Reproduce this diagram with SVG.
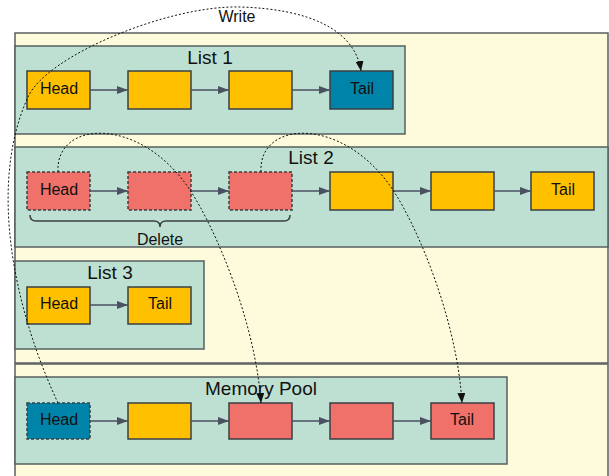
<svg xmlns="http://www.w3.org/2000/svg" width="609" height="476" viewBox="0 0 609 476">
<style>
text{font-family:"Liberation Sans",Arial,sans-serif;fill:#111;text-anchor:middle;dominant-baseline:central}
.bg{fill:#fdfbdc;stroke:#5a5f60;stroke-width:1.5}
.grp{fill:#bee0d2;stroke:#56605f;stroke-width:1.5}
.n{stroke:#3a3f44;stroke-width:1.5}
.y{fill:#ffc000}
.r{fill:#f0706a}
.b{fill:#0083a9}
.d{stroke-dasharray:3,2}
.lbl{font-size:19px}
.t{font-size:16px}
.ln{stroke:#4a5160;stroke-width:1.5;fill:none;marker-end:url(#ah)}
.cv{stroke:#111;stroke-width:1;stroke-dasharray:2,2;fill:none;marker-end:url(#bh)}
</style>
<defs>
<marker id="ah" markerUnits="userSpaceOnUse" markerWidth="11" markerHeight="8" refX="11" refY="4" orient="auto"><path d="M0,0 L11,4 L0,8 z" fill="#4a5160"/></marker>
<marker id="bh" markerUnits="userSpaceOnUse" markerWidth="10" markerHeight="8" refX="10" refY="4" orient="auto"><path d="M0,0 L10,4 L0,8 z" fill="#111"/></marker>
</defs>
<rect class="bg" x="15" y="33" width="593" height="330"/>
<rect class="bg" x="15" y="364" width="593" height="120"/>

<g id="list1">
<rect class="grp" x="15" y="46" width="390" height="88"/>
<text class="lbl" x="210" y="57">List 1</text>
</g>
<g id="l1-head"><rect class="n y" x="27" y="71" width="63" height="38"/><text class="t" x="59" y="88.5">Head</text></g>
<g id="l1-n2"><rect class="n y" x="128" y="71" width="63" height="38"/></g>
<g id="l1-n3"><rect class="n y" x="229" y="71" width="63" height="38"/></g>
<g id="l1-tail"><rect class="n b" x="330" y="71" width="63" height="38"/><text class="t" x="362" y="88.5">Tail</text></g>

<g id="list2">
<rect class="grp" x="15" y="147" width="593" height="100"/>
<text class="lbl" x="311" y="157">List 2</text>
</g>
<g id="l2-head"><rect class="n r d" x="27" y="172" width="63" height="38"/><text class="t" x="59" y="189">Head</text></g>
<g id="l2-n2"><rect class="n r d" x="128" y="172" width="63" height="38"/></g>
<g id="l2-n3"><rect class="n r d" x="229" y="172" width="63" height="38"/></g>
<g id="l2-n4"><rect class="n y" x="330" y="172" width="63" height="38"/></g>
<g id="l2-n5"><rect class="n y" x="431" y="172" width="63" height="38"/></g>
<g id="l2-tail"><rect class="n y" x="531" y="172" width="63" height="38"/><text class="t" x="563" y="189">Tail</text></g>
<g id="delete">
<path d="M30,215 Q30,221 36,221 L154,221 Q160,221 160,227 Q160,221 166,221 L284,221 Q290,221 290,215" fill="none" stroke="#3a3f44" stroke-width="1.5"/>
<text class="t" x="160" y="239">Delete</text>
</g>

<g id="list3">
<rect class="grp" x="15" y="261" width="189" height="88"/>
<text class="lbl" x="110" y="272">List 3</text>
</g>
<g id="l3-head"><rect class="n y" x="27" y="287" width="63" height="37"/><text class="t" x="59" y="303.5">Head</text></g>
<g id="l3-tail"><rect class="n y" x="128" y="287" width="63" height="37"/><text class="t" x="160" y="303.5">Tail</text></g>

<g id="pool">
<rect class="grp" x="15" y="377" width="492" height="87"/>
<text class="lbl" x="261" y="388">Memory Pool</text>
</g>
<g id="p-head"><rect class="n b d" x="27" y="403" width="63" height="36"/><text class="t" x="59" y="419.5">Head</text></g>
<g id="p-n2"><rect class="n y" x="128" y="403" width="63" height="36"/></g>
<g id="p-n3"><rect class="n r" x="229" y="403" width="63" height="36"/></g>
<g id="p-n4"><rect class="n r" x="330" y="403" width="63" height="36"/></g>
<g id="p-tail"><rect class="n r" x="431" y="403" width="63" height="36"/><text class="t" x="462" y="419.5">Tail</text></g>

<g id="connectors">
<line class="ln" x1="90" y1="90" x2="128" y2="90"/>
<line class="ln" x1="191" y1="90" x2="229" y2="90"/>
<line class="ln" x1="292" y1="90" x2="330" y2="90"/>
<line class="ln" x1="90" y1="191" x2="128" y2="191"/>
<line class="ln" x1="191" y1="191" x2="229" y2="191"/>
<line class="ln" x1="292" y1="191" x2="330" y2="191"/>
<line class="ln" x1="393" y1="191" x2="431" y2="191"/>
<line class="ln" x1="494" y1="191" x2="531" y2="191"/>
<line class="ln" x1="90" y1="305" x2="128" y2="305"/>
<line class="ln" x1="90" y1="421" x2="128" y2="421"/>
<line class="ln" x1="191" y1="421" x2="229" y2="421"/>
<line class="ln" x1="292" y1="421" x2="330" y2="421"/>
<line class="ln" x1="393" y1="421" x2="431" y2="421"/>
<path class="cv" d="M58,403 C10,300 -10,180 28,97 C47,55 170,5 240,7 C310,9 355,30 361,71"/>
<text class="t" x="237" y="16">Write</text>
<path class="cv" d="M58,172 C55,120 140,115 190,190 C215,228 255,320 261,403"/>
<path class="cv" d="M261,172 C258,120 343,115 393,190 C418,228 457,320 462,403"/>
</g>
</svg>
